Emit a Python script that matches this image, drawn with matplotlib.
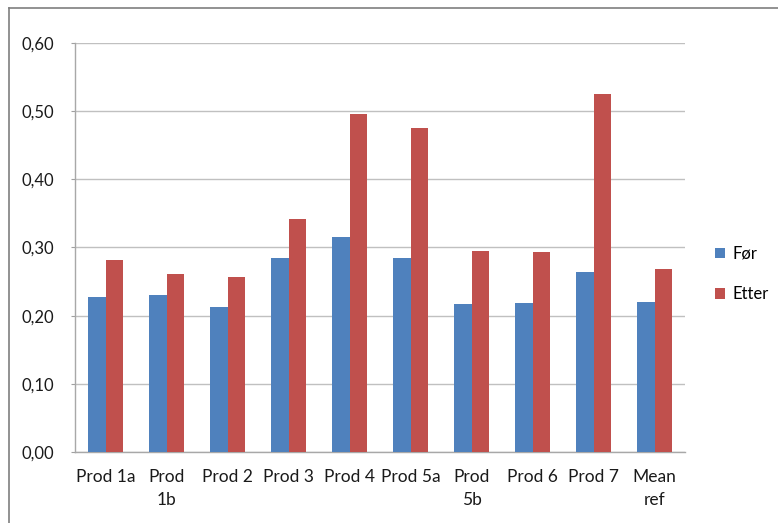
import matplotlib
matplotlib.use("Agg")
import matplotlib.pyplot as plt
import numpy as np
from matplotlib.lines import Line2D
from matplotlib.patches import Patch

categories = ["Prod 1a", "Prod\n1b", "Prod 2", "Prod 3", "Prod 4", "Prod 5a",
              "Prod\n5b", "Prod 6", "Prod 7", "Mean\nref"]
for_values = [0.228, 0.231, 0.212, 0.285, 0.315, 0.285, 0.217, 0.219, 0.264, 0.220]
etter_values = [0.282, 0.261, 0.256, 0.342, 0.496, 0.475, 0.295, 0.294, 0.525, 0.268]
series_names = ["Før", "Etter"]
yticks = [0.0, 0.1, 0.2, 0.3, 0.4, 0.5, 0.6]

plt.rcParams['font.family'] = ['Lato', 'DejaVu Sans']

W, H = 778, 523
fig = plt.figure(figsize=(W / 100, H / 100), dpi=100)
ax = fig.add_axes([75 / W, 1 - 452 / H, (685 - 75) / W, (452 - 43) / H])

blue = "#4F81BD"
red = "#C0504D"
x = np.arange(len(categories))
bw = 0.285
ax.bar(x - bw / 2, for_values, bw, color=blue, label=series_names[0], zorder=3)
ax.bar(x + bw / 2, etter_values, bw, color=red, label=series_names[1], zorder=3)

ax.set_xlim(-0.5, len(categories) - 0.5)
ax.set_ylim(0, 0.6)
ax.set_yticks(yticks)
ax.set_yticklabels([f"{v:.2f}".replace(".", ",") for v in yticks])
ax.set_xticks(x)
ax.set_xticklabels(categories, linespacing=1.55, va="top")
ax.tick_params(axis="x", length=0, pad=12, labelsize=12.5, colors="#1a1a1a")
ax.tick_params(axis="y", length=3, width=0.8, color="#a0a0a0", pad=12, labelsize=12, colors="#1a1a1a")
ax.yaxis.grid(True, color="#c0c0c0", linewidth=1.0, zorder=0)
for s in ["top", "right"]:
    ax.spines[s].set_visible(False)
for s in ["left", "bottom"]:
    ax.spines[s].set_color("#a8a8a8")
    ax.spines[s].set_linewidth(1.0)

handles = [Patch(facecolor=blue, label=series_names[0]),
           Patch(facecolor=red, label=series_names[1])]
fig.legend(handles=handles, loc="center left", bbox_to_anchor=(715 / W, 1 - 274 / H),
           frameon=False, fontsize=12, handlelength=0.6, handleheight=0.6,
           handletextpad=0.45, labelspacing=1.45, borderpad=0, borderaxespad=0)

# outer chart border
fig.add_artist(Line2D([9 / W, 1.0], [1 - 8 / H, 1 - 8 / H], transform=fig.transFigure,
                      color="#7f7f7f", linewidth=1.2))
fig.add_artist(Line2D([9 / W, 9 / W], [0, 1 - 8 / H], transform=fig.transFigure,
                      color="#7f7f7f", linewidth=1.2))

fig.savefig("out.png", dpi=100)
